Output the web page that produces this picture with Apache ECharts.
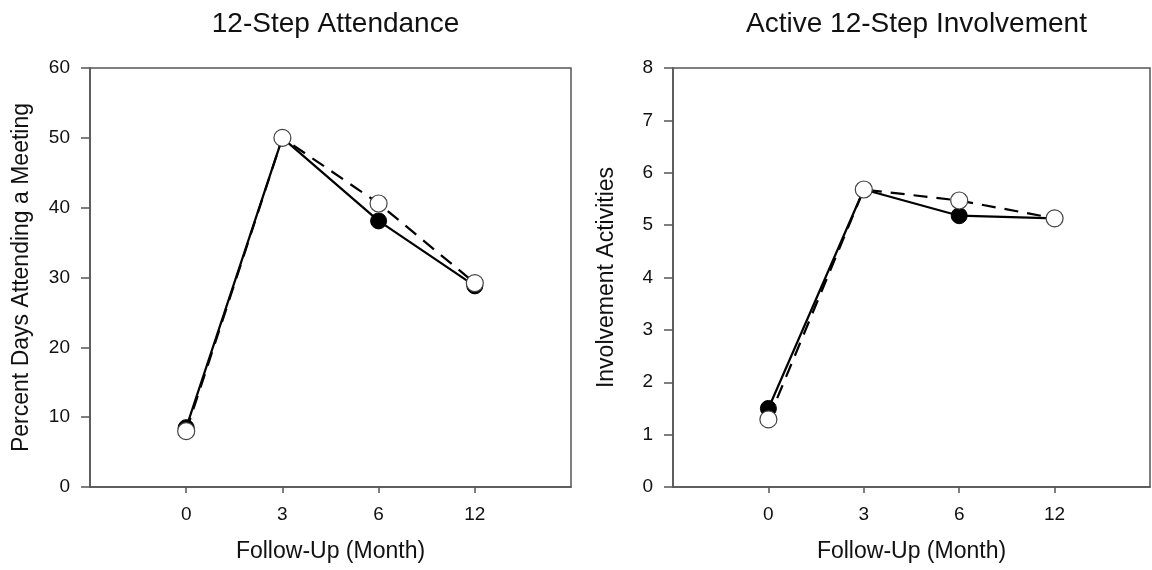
<!DOCTYPE html>
<html><head><meta charset="utf-8">
<script src="https://cdn.jsdelivr.net/npm/echarts@6/dist/echarts.min.js"></script>
<style>html,body{margin:0;padding:0;background:#fff}#c{width:1152px;height:570px}</style>
</head><body><div id="c"></div>
<script>
const months = ['0', '3', '6', '12'];
const attendFilled = [8.5, 50.0, 38.1, 28.8];
const attendOpen = [8.0, 50.0, 40.6, 29.2];
const involveFilled = [1.50, 5.68, 5.18, 5.13];
const involveOpen = [1.29, 5.68, 5.47, 5.13];
const titles = ['12-Step Attendance', 'Active 12-Step Involvement'];
const yNames = ['Percent Days Attending a Meeting', 'Involvement Activities'];
const xName = 'Follow-Up (Month)';

const FONT = '"Liberation Sans", Arial, sans-serif';
const idx = months.map((m, i) => i);
const pts = arr => arr.map((v, i) => [i, v]);

const grids = [
  {left: 90, top: 68, width: 481, height: 419},
  {left: 673, top: 68, width: 477, height: 419}
];

function xAxis(g) {
  return {
    type: 'value', gridIndex: g, min: -1, max: 4, interval: 1,
    name: xName, nameLocation: 'middle', nameGap: 53,
    nameTextStyle: {fontFamily: FONT, fontSize: 23, color: '#111'},
    axisLine: {show: true, onZero: false, lineStyle: {color: '#555', width: 1.5}},
    axisTick: {show: true, length: 6, customValues: idx, lineStyle: {color: '#555', width: 1.5}},
    axisLabel: {customValues: idx, formatter: v => months[v], fontFamily: FONT, fontSize: 19, color: '#111', margin: 18},
    splitLine: {show: false}
  };
}
function yAxis(g, max, interval) {
  return {
    type: 'value', gridIndex: g, min: 0, max: max, interval: interval,
    name: yNames[g], nameLocation: 'middle', nameGap: g === 0 ? 57 : 55,
    nameTextStyle: {fontFamily: FONT, fontSize: 23, color: '#111'},
    axisLine: {show: true, onZero: false, lineStyle: {color: '#555', width: 1.5}},
    axisTick: {show: true, length: 9, lineStyle: {color: '#555', width: 1.5}},
    axisLabel: {fontFamily: FONT, fontSize: 19, color: '#111', margin: 20},
    splitLine: {show: false}
  };
}
function filled(g, data) {
  return {
    type: 'line', xAxisIndex: g, yAxisIndex: g, data: pts(data),
    symbol: 'circle', symbolSize: 16, z: 3,
    lineStyle: {color: '#000', width: 2.2},
    itemStyle: {color: '#000', borderColor: '#000', borderWidth: 1},
    animation: false
  };
}
function open(g, data) {
  return {
    type: 'line', xAxisIndex: g, yAxisIndex: g, data: pts(data),
    symbol: 'circle', symbolSize: 17, z: 4,
    lineStyle: {color: '#000', width: 2.2, type: [14, 9]},
    itemStyle: {color: '#fff', borderColor: '#444', borderWidth: 1.2},
    animation: false
  };
}

const chart = echarts.init(document.getElementById('c'));
chart.setOption({
  backgroundColor: '#fff',
  title: titles.map((t, i) => ({
    text: t, left: grids[i].left + grids[i].width / 2, top: 5, textAlign: 'center',
    textStyle: {fontFamily: FONT, fontSize: 28, fontWeight: 'normal', color: '#111'}
  })),
  grid: grids.map(g => Object.assign({show: true, borderColor: '#555', borderWidth: 1.5, backgroundColor: 'transparent'}, g)),
  xAxis: [xAxis(0), xAxis(1)],
  yAxis: [yAxis(0, 60, 10), yAxis(1, 8, 1)],
  series: [filled(0, attendFilled), open(0, attendOpen), filled(1, involveFilled), open(1, involveOpen)]
});
</script></body></html>
